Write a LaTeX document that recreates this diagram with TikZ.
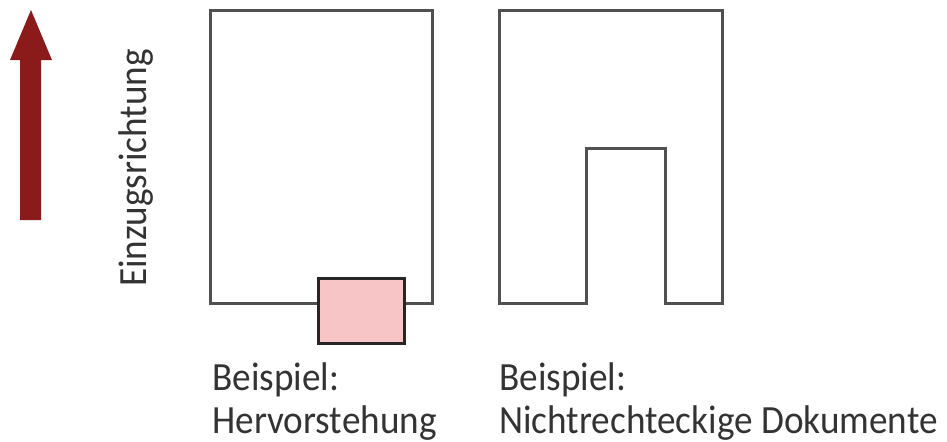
\documentclass[tikz,border=0pt]{standalone}
\usepackage{fontspec}
\setmainfont[FakeStretch=0.93]{Carlito}
\usetikzlibrary{positioning}
\definecolor{feedred}{HTML}{8B1A1A}
\definecolor{outline}{HTML}{505050}
\definecolor{overhang}{HTML}{F7C5C5}
\definecolor{txt}{HTML}{333333}
\tikzset{
  sheet/.style={draw=outline,line width=1.5pt,fill=white},
  tab/.style={draw=black!85,line width=1.5pt,fill=overhang},
  caption/.style={font=\fontsize{20}{21.5}\selectfont,text=txt,align=left,inner sep=0pt},
}
\begin{document}
\begin{tikzpicture}[x=0.5pt,y=-0.5pt]
  \useasboundingbox (0,0) rectangle (947,441);
  % feed direction
  \fill[feedred] (20,220) -- (20,60) -- (10,60) -- (31,10) -- (52,60) -- (41,60) -- (41,220) -- cycle;
  \node[caption,rotate=90] (dir) at (136,168) {Einzugsrichtung};
  % overhang example
  \draw[sheet] (210,10) rectangle (432,303);
  \draw[tab] (318,278) rectangle (404,343);
  \node[caption,anchor=north west] (cap1) at (212,362) {Beispiel:\\Hervorstehung};
  % non-rectangular example
  \draw[sheet] (499,303) -- (499,10) -- (722,10) -- (722,303) -- (665,303)
    -- (665,148) -- (586,148) -- (586,303) -- cycle;
  \node[caption,anchor=north west] (cap2) at (499,362) {Beispiel:\\Nichtrechteckige Dokumente};
\end{tikzpicture}
\end{document}
